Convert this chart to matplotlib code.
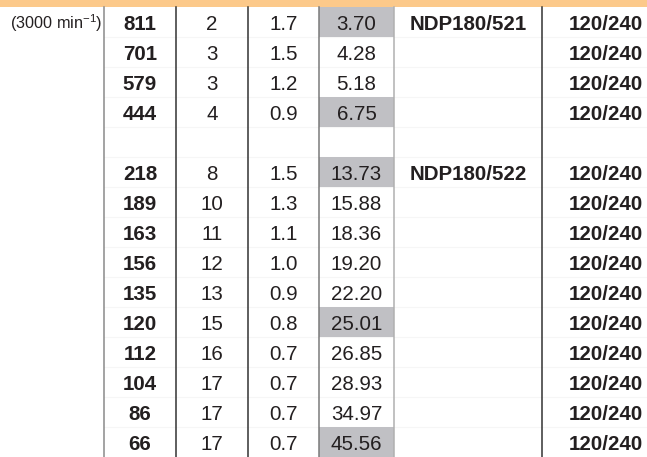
import matplotlib.pyplot as plt
from matplotlib.patches import Rectangle

plt.rcParams['font.family'] = ['Liberation Sans', 'DejaVu Sans']
plt.rcParams['mathtext.fontset'] = 'custom'
plt.rcParams['mathtext.rm'] = 'Liberation Sans'

# table data (blank row between the two gearbox groups)
speed = ['811', '701', '579', '444', '', '218', '189', '163', '156', '135', '120', '112', '104', '86', '66']
stages = ['2', '3', '3', '4', '', '8', '10', '11', '12', '13', '15', '16', '17', '17', '17']
factor = ['1.7', '1.5', '1.2', '0.9', '', '1.5', '1.3', '1.1', '1.0', '0.9', '0.8', '0.7', '0.7', '0.7', '0.7']
ratio = ['3.70', '4.28', '5.18', '6.75', '', '13.73', '15.88', '18.36', '19.20', '22.20',
         '25.01', '26.85', '28.93', '34.97', '45.56']
model = ['NDP180/521', '', '', '', '', 'NDP180/522', '', '', '', '', '', '', '', '', '']
flange = ['120/240', '120/240', '120/240', '120/240', '',
          '120/240', '120/240', '120/240', '120/240', '120/240',
          '120/240', '120/240', '120/240', '120/240', '120/240']
shaded = [0, 3, 5, 10, 14]
label = r'(3000 min$^{\mathregular{-1}}$)'

W, H = 647, 457
fig = plt.figure(figsize=(W / 100, H / 100), dpi=100)
ax = fig.add_axes([0, 0, 1, 1])
ax.set_xlim(0, W)
ax.set_ylim(H, 0)
ax.axis('off')

top = 7
rh = 30
edges = [104, 176, 248, 319, 394, 542, 670]
fs = 14.8

# orange header strip
ax.add_patch(Rectangle((0, 0), W, 6.5, color='#fcc98a', lw=0))

# shaded ratio cells
for r in shaded:
    ax.add_patch(Rectangle((edges[3], top + r * rh), edges[4] - edges[3], rh,
                           color='#c0c0c4', lw=0, zorder=1))

# faint row separators
for r in range(1, len(speed)):
    ax.plot([edges[0], W], [top + r * rh] * 2, color='#f6f6f6', lw=0.8, zorder=0.5)

# vertical rules
vcol = ['#8a8a8a', '#333333', '#333333', '#7a7a7a', '#b0b0b0', '#333333']
for x, c in zip(edges[:-1], vcol):
    ax.plot([x, x], [6.5, H], color=c, lw=1.1, zorder=2)

ax.text(56, top + 22, label, ha='center', va='baseline', fontsize=11.7, color='#231f20')

cols = [(speed, 'bold'), (stages, 'normal'), (factor, 'normal'),
        (ratio, 'normal'), (model, 'bold'), (flange, 'bold')]
for i, (vals, wt) in enumerate(cols):
    cx = (edges[i] + edges[i + 1]) / 2
    for r, v in enumerate(vals):
        if v:
            ax.text(cx, top + r * rh + 23, v, ha='center', va='baseline',
                    fontsize=fs, fontweight=wt, color='#231f20', zorder=3)

fig.savefig('out.png', dpi=100)
